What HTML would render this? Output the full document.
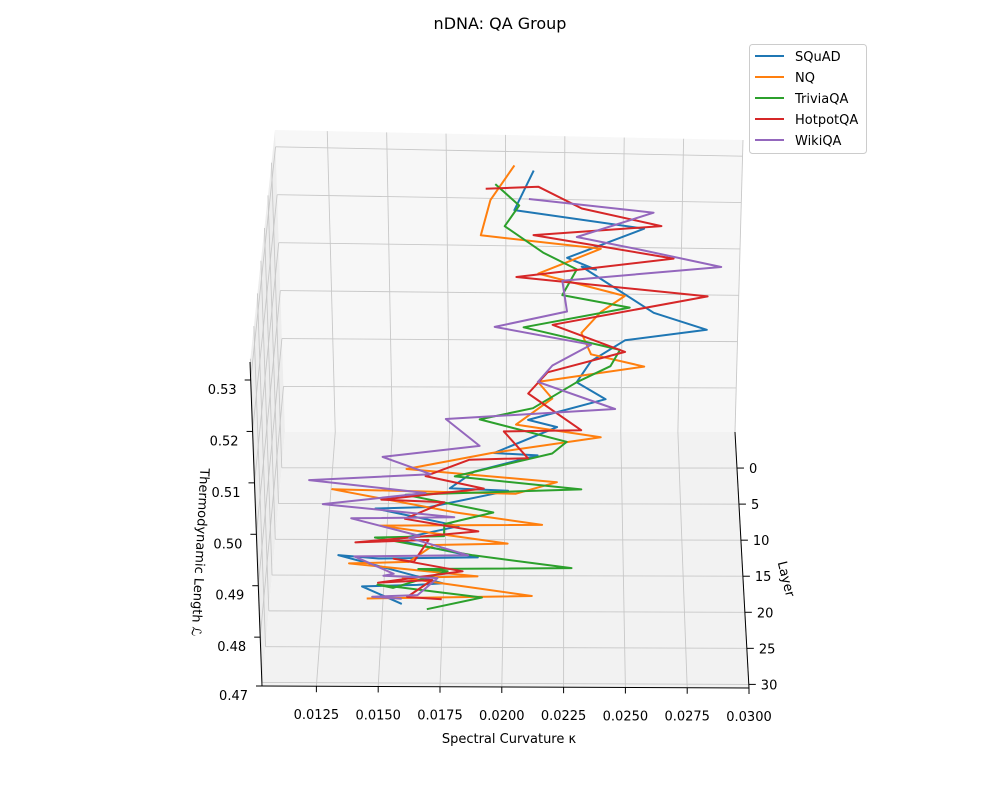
<!DOCTYPE html>
<html><head><meta charset="utf-8"><style>
html,body{margin:0;padding:0;background:#fff;}
svg{display:block;font-family:"DejaVu Sans","Liberation Sans",sans-serif;}
</style></head><body>
<svg id="chart" width="1000" height="800" viewBox="0 0 1000 800" xmlns="http://www.w3.org/2000/svg">
<text x="500" y="29" text-anchor="middle" font-size="16">nDNA: QA Group</text>
<g id="panes"></g>
<g id="grid"></g>
<g id="axes"></g>
<g id="series"></g>
<text x="509" y="743" text-anchor="middle" font-size="13">Spectral Curvature κ</text>
<text x="782" y="580" text-anchor="middle" font-size="13" transform="rotate(76 782 580)">Layer</text>
<text x="196" y="552" text-anchor="middle" font-size="13" transform="rotate(93 196 552)">Thermodynamic Length ℒ</text>
<g id="legend"></g>
</svg>
<script>
const layers = [0,1,2,3,4,5,6,7,8,9,10,11,12,13,14,15,16,17,18,19,20,21,22,23,24,25,26,27,28,29,30];
const seriesNames = ["SQuAD","NQ","TriviaQA","HotpotQA","WikiQA"];
const seriesColors = ["#1f77b4","#ff7f0e","#2ca02c","#d62728","#9467bd"];
const squadK = [0.0212,0.0204,0.0258,0.0226,0.0238,0.0232,0.0262,0.0284,0.0250,0.0236,0.0230,0.0242,0.0210,0.0222,0.0196,0.0214,0.0188,0.0178,0.0202,0.0170,0.0148,0.0182,0.0160,0.0156,0.0190,0.0150,0.0134,0.0176,0.0166,0.0144,0.0160];
const squadL = [0.533,0.526,0.524,0.519,0.518,0.520,0.512,0.510,0.509,0.506,0.503,0.501,0.498,0.498,0.494,0.495,0.493,0.491,0.492,0.490,0.491,0.489,0.488,0.489,0.487,0.488,0.490,0.486,0.487,0.488,0.486];
const nqK = [0.0204,0.0194,0.0190,0.0240,0.0214,0.0250,0.0240,0.0232,0.0236,0.0258,0.0214,0.0220,0.0205,0.0240,0.0195,0.0160,0.0222,0.0205,0.0130,0.0180,0.0216,0.0150,0.0202,0.0172,0.0162,0.0138,0.0190,0.0160,0.0212,0.0180,0.0146];
const nqL = [0.534,0.528,0.522,0.521,0.517,0.514,0.512,0.509,0.506,0.505,0.503,0.501,0.497,0.496,0.494,0.492,0.491,0.490,0.492,0.489,0.488,0.489,0.487,0.488,0.486,0.487,0.486,0.487,0.485,0.486,0.487];
const triviaK = [0.0196,0.0206,0.0200,0.0216,0.0230,0.0224,0.0252,0.0208,0.0248,0.0244,0.0230,0.0212,0.0190,0.0226,0.0220,0.0200,0.0180,0.0232,0.0160,0.0196,0.0176,0.0176,0.0148,0.0188,0.0228,0.0166,0.0178,0.0156,0.0150,0.0192,0.0170];
const triviaL = [0.530,0.527,0.524,0.520,0.518,0.514,0.513,0.510,0.507,0.505,0.503,0.499,0.498,0.495,0.494,0.493,0.492,0.491,0.491,0.489,0.488,0.487,0.488,0.486,0.485,0.486,0.487,0.485,0.487,0.486,0.485];
const hotpotK = [0.0192,0.0214,0.0232,0.0265,0.0212,0.0270,0.0205,0.0284,0.0220,0.0250,0.0218,0.0210,0.0232,0.0200,0.0210,0.0186,0.0168,0.0192,0.0150,0.0176,0.0160,0.0190,0.0140,0.0170,0.0164,0.0156,0.0184,0.0150,0.0172,0.0162,0.0176];
const hotpotL = [0.529,0.531,0.528,0.526,0.525,0.522,0.519,0.517,0.512,0.508,0.505,0.502,0.496,0.497,0.493,0.494,0.492,0.491,0.490,0.491,0.489,0.488,0.487,0.489,0.486,0.488,0.487,0.486,0.488,0.486,0.487];
const wikiK = [0.0210,0.0262,0.0230,0.0256,0.0290,0.0224,0.0226,0.0196,0.0236,0.0220,0.0214,0.0246,0.0176,0.0190,0.0150,0.0170,0.0120,0.0168,0.0126,0.0180,0.0138,0.0166,0.0162,0.0186,0.0140,0.0156,0.0152,0.0174,0.0166,0.0148,0.0160];
const wikiL = [0.527,0.526,0.522,0.521,0.519,0.517,0.512,0.510,0.508,0.505,0.503,0.499,0.498,0.494,0.493,0.491,0.491,0.490,0.489,0.488,0.489,0.487,0.488,0.486,0.487,0.485,0.486,0.487,0.485,0.486,0.487];
const kTicks = [0.0125,0.0150,0.0175,0.0200,0.0225,0.0250,0.0275,0.0300];
const kTickLabels = ["0.0125","0.0150","0.0175","0.0200","0.0225","0.0250","0.0275","0.0300"];
const layerTicks = [0,5,10,15,20,25,30];
const lTicks = [0.47,0.48,0.49,0.50,0.51,0.52,0.53];
const lTickLabels = ["0.47","0.48","0.49","0.50","0.51","0.52","0.53"];

const K0=0.0103,K1=0.0300,Y0=-5,Y1=30.5,L0=0.4705,L1=0.5335;
const C={"000":[285,432],"100":[735,432],"010":[262,686],"110":[749,688],
"001":[275,130],"101":[743,140],"011":[250,362],"111":[760,372]};
function proj(k,y,l){
  const u=(k-K0)/(K1-K0),v=(y-Y0)/(Y1-Y0),w=(l-L0)/(L1-L0);
  let X=0,Yp=0;
  for(const a of [0,1])for(const b of [0,1])for(const c of [0,1]){
    const wt=(a?u:1-u)*(b?v:1-v)*(c?w:1-w);const p=C[""+a+b+c];X+=wt*p[0];Yp+=wt*p[1];}
  return [X,Yp];
}
const NS="http://www.w3.org/2000/svg";
function mk(tag,attrs,parent){const e=document.createElementNS(NS,tag);for(const k in attrs)e.setAttribute(k,attrs[k]);parent.appendChild(e);return e;}
function poly(pts){return pts.map(p=>p[0].toFixed(1)+","+p[1].toFixed(1)).join(" ");}
const panes=document.getElementById("panes"),grid=document.getElementById("grid"),axes=document.getElementById("axes"),series=document.getElementById("series"),legend=document.getElementById("legend");
let e;
e=mk("polygon",{points:poly([proj(K0,Y0,L0),proj(K1,Y0,L0),proj(K1,Y0,L1),proj(K0,Y0,L1)]),fill:"#f7f7f7"},panes);


e=mk("polygon",{points:poly([proj(K0,Y0,L0),proj(K0,Y1,L0),proj(K0,Y1,L1),proj(K0,Y0,L1)]),fill:"#ededed"},panes);


e=mk("polygon",{points:poly([proj(K0,Y0,L0),proj(K1,Y0,L0),proj(K1,Y1,L0),proj(K0,Y1,L0)]),fill:"#f2f2f2"},panes);


const gs={stroke:"#c8c8c8","stroke-width":0.9,fill:"none"};
function gl(a,b){const l=mk("line",Object.assign({x1:a[0],y1:a[1],x2:b[0],y2:b[1]},gs),grid);

}
kTicks.forEach(k=>{gl(proj(k,Y0,L0),proj(k,Y0,L1));gl(proj(k,Y0,L0),proj(k,Y1,L0));});
layerTicks.forEach(y=>{gl(proj(K0,y,L0),proj(K1,y,L0));gl(proj(K0,y,L0),proj(K0,y,L1));});
lTicks.forEach(l=>{if(l<L0)return;gl(proj(K0,Y0,l),proj(K1,Y0,l));gl(proj(K0,Y0,l),proj(K0,Y1,l));});
function al(a,b){const l=mk("line",{x1:a[0],y1:a[1],x2:b[0],y2:b[1],stroke:"#000","stroke-width":1},axes);

}
al(proj(K0,Y1,L0),proj(K1,Y1,L0));
al(proj(K1,Y0,L0),proj(K1,Y1,L0));
al(proj(K0,Y1,L0),proj(K0,Y1,L1));
kTicks.forEach((k,i)=>{const p=proj(k,Y1,L0);al(p,[p[0],p[1]+6]);
const t=mk("text",{x:p[0],y:p[1]+33,"text-anchor":"middle","font-size":13},axes);t.textContent=kTickLabels[i];

});
layerTicks.forEach(y=>{const p=proj(K1,y,L0);al(p,[p[0]+7,p[1]]);
const t=mk("text",{x:p[0]+12,y:p[1]+5,"font-size":13},axes);t.textContent=y;

});
lTicks.forEach((l,i)=>{const p=proj(K0,Y1,Math.max(l,L0));al(p,[p[0]-6,p[1]]);
const t=mk("text",{x:p[0]-14,y:p[1]+14,"text-anchor":"end","font-size":13},axes);t.textContent=lTickLabels[i];

});
const allK=[squadK,nqK,triviaK,hotpotK,wikiK],allL=[squadL,nqL,triviaL,hotpotL,wikiL];
allK.forEach((ks,s)=>{
  const pts=layers.map((y,i)=>proj(ks[i],y,allL[s][i]));
  const p=mk("polyline",{points:poly(pts),fill:"none",stroke:seriesColors[s],"stroke-width":2,"stroke-linejoin":"round"},series);
  
  
});
const box=mk("rect",{x:749.5,y:44.5,width:117,height:109,rx:3,fill:"#fff","fill-opacity":0.8,stroke:"#ccc"},legend);


seriesNames.forEach((n,i)=>{const y=56+i*21;
const l=mk("line",{x1:755,y1:y,x2:784,y2:y,stroke:seriesColors[i],"stroke-width":2},legend);


const t=mk("text",{x:795,y:y+5,"font-size":13},legend);t.textContent=n;

});
</script>
</body></html>
